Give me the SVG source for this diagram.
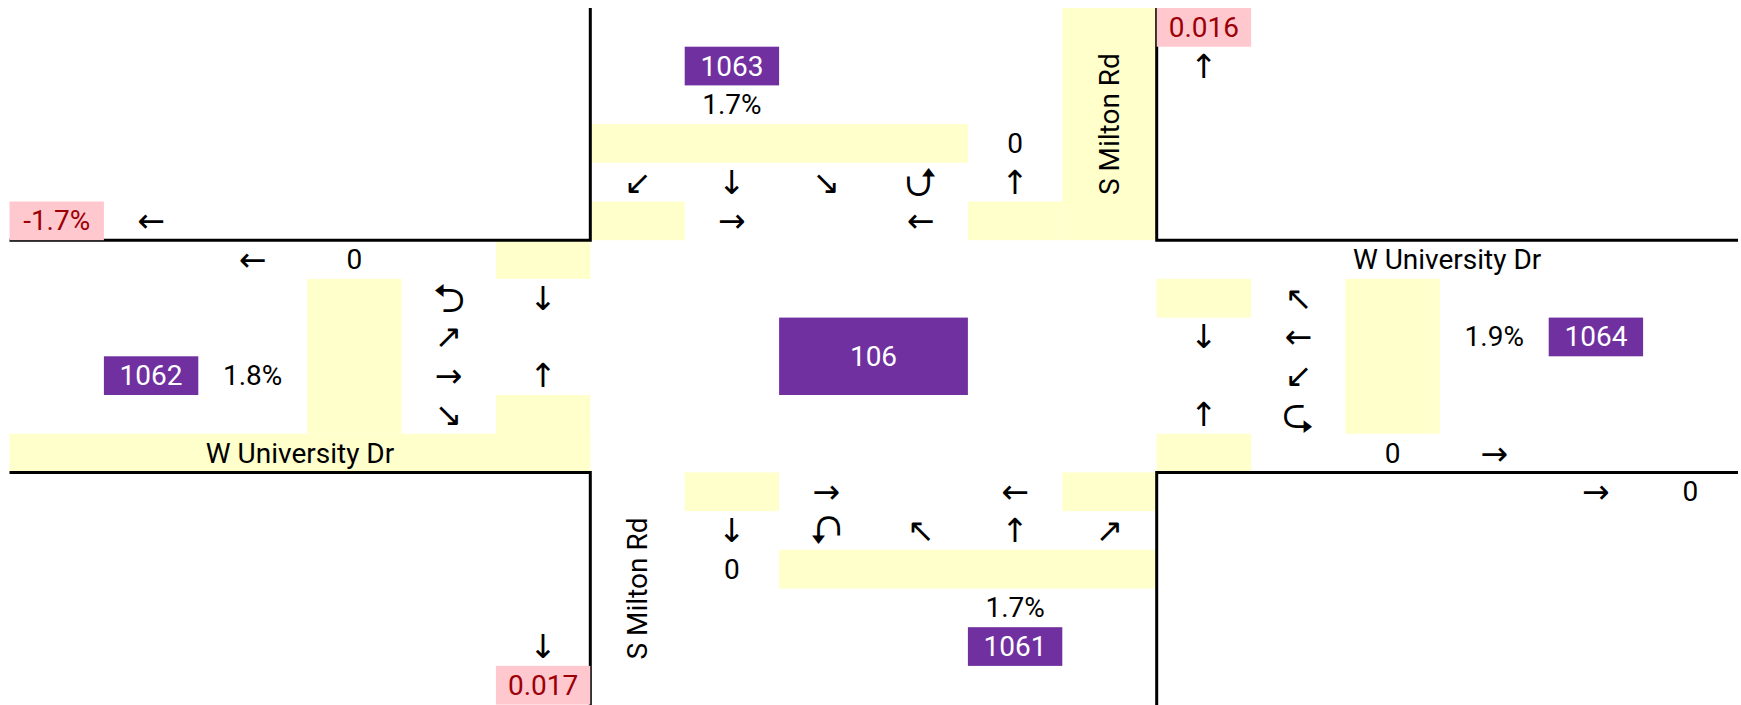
<svg xmlns="http://www.w3.org/2000/svg" width="1741" height="705" viewBox="0 0 1741 705">
<style>
.t{font-family:Roboto,"Liberation Sans",sans-serif;font-size:28px;font-weight:400;text-anchor:middle;dominant-baseline:central;fill:#000}
.w{fill:#fff}
.r{fill:#9C0006}
.a{font-family:"DejaVu Sans",sans-serif;font-size:33px;text-anchor:middle;dominant-baseline:central;fill:#000}
.u{font-size:40px}
.y{fill:#FFFFCC}
.p{fill:#7030A0}
.k{fill:#FFC7CE}
.ln{fill:none;stroke:#000;stroke-width:3}
</style>
<rect width="1741" height="705" fill="#fff"/>
<g id="lanes">
<rect class="y" x="1062.3" y="8" width="94.4" height="232.2"/>
<rect class="y" x="590.3" y="124.1" width="377.6" height="38.7"/>
<rect class="y" x="590.3" y="201.5" width="94.4" height="38.7"/>
<rect class="y" x="967.9" y="201.5" width="94.4" height="38.7"/>
<rect class="y" x="495.9" y="240.2" width="94.4" height="38.7"/>
<rect class="y" x="307.1" y="278.9" width="94.4" height="154.8"/>
<rect class="y" x="495.9" y="395" width="94.4" height="77.4"/>
<rect class="y" x="9.5" y="433.7" width="580.8" height="38.7"/>
<rect class="y" x="1156.7" y="278.9" width="94.4" height="38.7"/>
<rect class="y" x="1156.7" y="433.7" width="94.4" height="38.7"/>
<rect class="y" x="1345.5" y="278.9" width="94.4" height="154.8"/>
<rect class="y" x="684.7" y="472.4" width="94.4" height="38.7"/>
<rect class="y" x="1062.3" y="472.4" width="94.4" height="38.7"/>
<rect class="y" x="779.1" y="549.8" width="377.6" height="38.7"/>
</g>
<g id="curbs">
<path class="ln" d="M9.5 240.2H590.3V8"/>
<path class="ln" d="M1156.7 8V240.2H1738"/>
<path class="ln" d="M9.5 472.4H590.3V705"/>
<path class="ln" d="M1156.7 705V472.4H1738"/>
</g>
<g id="node-106"><rect class="p" x="779.1" y="317.6" width="188.8" height="77.4"/><text class="t w" x="873.5" y="356.3">106</text></g>
<g id="node-1063"><rect class="p" x="684.7" y="46.7" width="94.4" height="38.7"/><text class="t w" x="731.9" y="66.05">1063</text></g>
<g id="node-1062"><rect class="p" x="103.9" y="356.3" width="94.4" height="38.7"/><text class="t w" x="151.1" y="375.65">1062</text></g>
<g id="node-1064"><rect class="p" x="1548.7" y="317.6" width="94.4" height="38.7"/><text class="t w" x="1595.9" y="336.95">1064</text></g>
<g id="node-1061"><rect class="p" x="967.9" y="627.2" width="94.4" height="38.7"/><text class="t w" x="1015.1" y="646.55">1061</text></g>
<g id="exit-west"><rect class="k" x="9.5" y="201.5" width="94.4" height="38.7"/><text class="t r" x="56.7" y="220.85">-1.7%</text></g>
<g id="exit-north"><rect class="k" x="1156.7" y="8" width="94.4" height="38.7"/><text class="t r" x="1203.9" y="27.35">0.016</text></g>
<g id="exit-south"><rect class="k" x="495.9" y="665.9" width="94.4" height="38.7"/><text class="t r" x="543.1" y="685.25">0.017</text></g>
<g id="labels">
<text class="t" x="731.9" y="104.75">1.7%</text>
<text class="t" x="1015.1" y="143.45">0</text>
<text class="t" transform="translate(1109.5 124.1) rotate(-90)">S Milton Rd</text>
<text class="t" x="354.3" y="259.55">0</text>
<text class="t" x="252.7" y="375.65">1.8%</text>
<text class="t" x="300" y="453.05">W University Dr</text>
<text class="t" x="1447.1" y="259.55">W University Dr</text>
<text class="t" x="1494.3" y="336.95">1.9%</text>
<text class="t" x="1392.7" y="453.05">0</text>
<text class="t" x="1690.3" y="491.75">0</text>
<text class="t" x="731.9" y="569.15">0</text>
<text class="t" x="1015.1" y="607.85">1.7%</text>
<text class="t" transform="translate(637.5 588.5) rotate(-90)">S Milton Rd</text>
</g>
<g id="arrows">
<text class="a" x="151.1" y="220.85">←</text>
<text class="a" x="1203.9" y="66.05">↑</text>
<text class="a" x="637.5" y="182.15">↙</text>
<text class="a" x="731.9" y="182.15">↓</text>
<text class="a" x="826.3" y="182.15">↘</text>
<text class="a u" x="920.7" y="182.15">⮍</text>
<text class="a" x="1015.1" y="182.15">↑</text>
<text class="a" x="731.9" y="220.85">→</text>
<text class="a" x="920.7" y="220.85">←</text>
<text class="a" x="252.7" y="259.55">←</text>
<text class="a u" x="448.7" y="298.25">⮌</text>
<text class="a" x="543.1" y="298.25">↓</text>
<text class="a" x="448.7" y="336.95">↗</text>
<text class="a" x="448.7" y="375.65">→</text>
<text class="a" x="543.1" y="375.65">↑</text>
<text class="a" x="448.7" y="414.35">↘</text>
<text class="a" x="1298.3" y="298.25">↖</text>
<text class="a" x="1203.9" y="336.95">↓</text>
<text class="a" x="1298.3" y="336.95">←</text>
<text class="a" x="1298.3" y="375.65">↙</text>
<text class="a" x="1203.9" y="414.35">↑</text>
<text class="a u" x="1298.3" y="414.35">⮎</text>
<text class="a" x="1494.3" y="453.05">→</text>
<text class="a" x="1595.9" y="491.75">→</text>
<text class="a" x="826.3" y="491.75">→</text>
<text class="a" x="1015.1" y="491.75">←</text>
<text class="a" x="731.9" y="530.45">↓</text>
<text class="a u" x="826.3" y="530.45">⮏</text>
<text class="a" x="920.7" y="530.45">↖</text>
<text class="a" x="1015.1" y="530.45">↑</text>
<text class="a" x="1109.5" y="530.45">↗</text>
<text class="a" x="543.1" y="646.55">↓</text>
</g>
</svg>
